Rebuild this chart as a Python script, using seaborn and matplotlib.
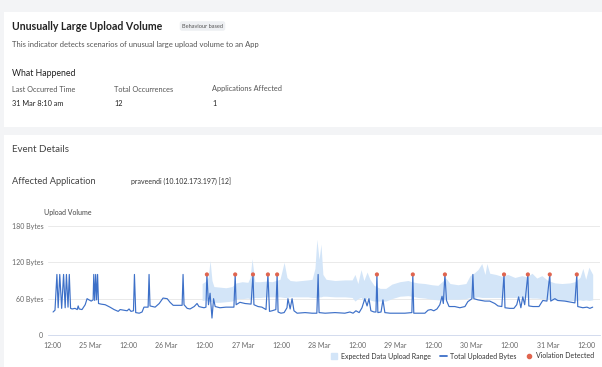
import matplotlib
matplotlib.use("Agg")
import matplotlib.pyplot as plt
import matplotlib.dates as mdates
from matplotlib.patches import Rectangle
from matplotlib.lines import Line2D
from matplotlib.ticker import FuncFormatter
import seaborn as sns
import pandas as pd

# Hours counted from 24 Mar 00:00
start = pd.Timestamp("2021-03-24 00:00")

upload_hours = [
    12.3, 12.9, 13.5, 13.9, 14.4, 15.0, 15.6, 16.1, 16.5, 17.0, 17.4, 17.8, 18.3,
    19.2, 19.9, 20.2, 20.5, 21.4, 22.4, 23.0, 23.6, 24.3, 24.9, 25.1, 25.4, 25.7,
    26.0, 26.3, 26.6, 27.4, 28.7, 30.2, 31.5, 32.8, 33.4, 34.6, 35.6, 36.2, 36.8,
    37.6, 37.9, 38.3, 39.4, 40.3, 40.9, 42.2, 42.5, 42.8, 44.4, 45.7, 46.9, 48.2,
    49.1, 50.1, 52.9, 53.2, 53.5, 54.5, 55.4, 56.7, 57.6, 58.2, 58.9, 59.8, 60.4,
    60.7, 61.2, 61.7, 62.3, 62.8, 63.3, 64.8, 66.7, 68.0, 69.2, 69.6, 69.9, 71.1,
    72.7, 74.6, 75.2, 75.5, 76.8, 78.0, 79.3, 79.9, 80.4, 81.2, 82.4, 82.8, 83.1,
    84.0, 85.0, 85.9, 86.2, 86.9, 87.5, 88.1, 89.1, 91.6, 93.8, 95.3, 95.7, 96.0,
    97.9, 101.0, 104.1, 105.7, 106.7, 107.6, 108.6, 109.5, 110.4, 111.1, 111.7,
    112.3, 113.3, 113.9, 114.2, 114.5, 115.5, 116.1, 116.7, 118.3, 121.4, 123.0,
    125.2, 125.5, 125.8, 127.7, 129.3, 130.3, 131.2, 132.1, 133.1, 134.0, 134.7,
    135.1, 135.6, 136.1, 136.9, 138.7, 140.3, 141.9, 142.8, 144.1, 144.4, 144.7,
    146.0, 148.2, 149.7, 151.3, 152.3, 153.5, 154.2, 154.5, 156.0, 157.3, 158.2,
    158.8, 159.5, 160.1, 160.7, 161.7, 162.0, 163.3, 165.2, 165.8, 166.4, 167.7,
    168.6, 168.9, 170.2, 171.1, 173.3, 175.5, 176.5, 177.1, 177.4, 179.0, 180.3,
    181.2, 182.1,
]
upload_bytes = [
    38, 41, 100, 45, 100, 44, 100, 45, 100, 46, 100, 44, 43,
    44, 42, 48, 43, 42, 50, 60, 58, 56, 58, 100, 57, 100,
    58, 100, 52, 51, 50, 46, 42, 39, 42, 41, 40, 43, 39,
    40, 100, 37, 36, 38, 46, 46, 100, 48, 46, 52, 61, 60,
    54, 49, 49, 100, 50, 44, 43, 47, 52, 47, 46, 45, 46,
    100, 50, 69, 28, 60, 47, 45, 46, 46, 46, 100, 50, 54,
    52, 51, 100, 50, 47, 46, 42, 100, 39, 40, 42, 100, 38,
    36, 37, 45, 60, 43, 60, 40, 36, 37, 36, 36, 100, 37,
    36, 37, 36, 38, 36, 40, 37, 45, 60, 48, 60,
    40, 38, 38, 100, 37, 38, 58, 37, 36, 36, 36,
    37, 100, 36, 36, 36, 41, 42, 40, 43, 50, 64,
    52, 100, 57, 47, 47, 45, 47, 55, 60, 100, 60,
    58, 56, 56, 52, 48, 47, 100, 45, 44, 44, 50,
    63, 45, 63, 50, 100, 48, 47, 47, 52, 57, 56,
    100, 56, 60, 57, 56, 54, 53, 100, 47, 45, 46,
    44, 46,
]

range_hours = [
    59.2, 60.1, 61.1, 61.7, 62.3, 62.9, 64.8, 66.7, 68.6, 69.9, 71.8, 73.6, 74.3,
    74.9, 75.8, 77.4, 79.3, 81.2, 83.7, 85.0, 85.9, 86.9, 88.7, 90.6, 92.5, 93.8,
    94.7, 95.3, 96.0, 96.6, 97.2, 98.2, 101.0, 104.1, 106.4, 107.3, 108.2, 109.2,
    110.1, 111.1, 112.0, 113.3, 115.2, 117.0, 118.9, 121.4, 124.0, 125.2, 127.1,
    129.3, 131.5, 133.4, 134.7, 135.9, 137.2, 139.7, 142.2, 143.5, 144.7, 146.0,
    147.2, 148.2, 148.8, 149.7, 151.6, 153.5, 155.4, 157.6, 159.8, 161.4, 163.0,
    164.5, 166.1, 168.0, 170.2, 172.4, 174.9, 176.5, 178.1, 179.0, 179.9, 180.9,
    182.1,
]
range_low = [
    57, 58, 56, 55, 56, 54, 54, 55, 56, 60, 60, 61, 60,
    61, 62, 62, 63, 63, 63, 62, 62, 63, 63, 63, 63, 62,
    62, 61, 63, 63, 64, 64, 63, 63, 62, 56, 60, 62,
    55, 62, 58, 56, 56, 56, 60, 64, 65, 64, 62,
    61, 59, 58, 58, 59, 59, 59, 60, 62, 62, 63,
    62, 62, 62, 62, 62, 62, 62, 62, 62, 62, 61,
    61, 60, 59, 58, 57, 57, 57, 58, 57, 58, 57,
    58,
]
range_high = [
    85, 88, 95, 123, 90, 80, 79, 78, 80, 86, 88, 87, 95,
    126, 88, 88, 89, 88, 92, 120, 95, 90, 89, 90, 91, 92,
    110, 158, 125, 150, 100, 92, 90, 91, 91, 100, 85, 108,
    90, 104, 92, 82, 77, 77, 84, 88, 90, 88, 86,
    85, 83, 82, 88, 94, 85, 83, 85, 98, 102, 108,
    118, 100, 118, 102, 100, 97, 100, 95, 98, 96, 102,
    94, 98, 90, 86, 85, 86, 88, 95, 110, 92, 112,
    100,
]

violation_hours = [60.7, 69.6, 75.2, 79.9, 82.8, 114.2, 125.5, 135.6, 154.2, 161.7, 168.6, 177.1]
violation_bytes = [100, 100, 100, 100, 100, 100, 100, 100, 100, 100, 100, 100]

y_ticks = [0, 60, 120, 180]
y_tick_labels = ["0", "60 Bytes", "120 Bytes", "180 Bytes"]

summary_labels = ["Last Occurred Time", "Total Occurrences", "Applications Affected"]
summary_values = ["31 Mar 8:10 am", "12", "1"]

upload = pd.DataFrame({"time": start + pd.to_timedelta(upload_hours, unit="h"),
                       "bytes": upload_bytes})
expected = pd.DataFrame({"time": start + pd.to_timedelta(range_hours, unit="h"),
                         "low": range_low, "high": range_high})
violations = pd.DataFrame({"time": start + pd.to_timedelta(violation_hours, unit="h"),
                           "bytes": violation_bytes})

LINE = "#3d70c8"
BAND = "#d3e5f8"
RED = "#e0654f"
DARK = "#333333"
GREY = "#666666"

sns.set_style("white")
plt.rcParams["font.family"] = ["Lato", "DejaVu Sans"]

W, H = 602, 367
fig = plt.figure(figsize=(W / 100, H / 100), dpi=100, facecolor="#f3f4f6")


def fx(x):
    return x / W


def fy(y):
    return 1 - y / H


def txt(x, y, s, **kw):
    fig.text(fx(x), fy(y), s, va="center", ha=kw.pop("ha", "left"), **kw)


# white cards, kept behind the chart
for y_top, y_bot in [(12, 127), (135, 367)]:
    fig.patches.append(Rectangle((fx(4), fy(y_bot)), fx(602) - fx(4), (y_bot - y_top) / H,
                                 transform=fig.transFigure, facecolor="white",
                                 edgecolor="none", zorder=-10))

# header card
txt(12, 26, "Unusually Large Upload Volume", fontsize=7.6, fontweight="bold", color="#222222")
txt(182, 26, "Behaviour based", fontsize=4.1, color="#555555",
    bbox=dict(boxstyle="round,pad=0.4", facecolor="#eef0f3", edgecolor="none"))
txt(12, 44, "This indicator detects scenarios of unusual large upload volume to an App",
    fontsize=5.5, color="#555555")
txt(12, 73, "What Happened", fontsize=6.3, color="#222222")
for xpos, lab, val in zip([12, 114, 212], summary_labels, summary_values):
    txt(xpos, 89, lab, fontsize=5.3, color="#555555")
    txt(xpos, 103, val, fontsize=5.3, color="#222222")

# event details card
txt(12, 149, "Event Details", fontsize=7.0, color="#444444")
txt(12, 181, "Affected Application", fontsize=6.7, color="#444444")
txt(131, 181, "praveendi (10.102.173.197) [12]", fontsize=5.0, color="#333333")
txt(44, 213, "Upload Volume", fontsize=5.0, color="#444444")

# chart
ax = fig.add_axes([fx(48), fy(335), fx(600) - fx(48), (335 - 226) / H])
ax.set_facecolor("white")
ax.fill_between(expected["time"], expected["low"], expected["high"],
                color=BAND, linewidth=0, zorder=1)
sns.lineplot(data=upload, x="time", y="bytes", ax=ax, color=LINE, linewidth=0.85, zorder=3)
sns.scatterplot(data=violations, x="time", y="bytes", ax=ax, color=RED, s=9,
                edgecolor="none", zorder=4)

ax.set_xlim(start + pd.Timedelta(hours=10.7), start + pd.Timedelta(hours=184.4))
ax.set_ylim(0, 180)
ax.set_yticks(y_ticks)
ax.set_yticklabels(y_tick_labels)
ax.set_xlabel("")
ax.set_ylabel("")

ax.xaxis.set_major_locator(mdates.HourLocator(byhour=[0, 12]))


def date_label(v, pos):
    d = mdates.num2date(v)
    return "12:00" if d.hour == 12 else f"{d.day} {d:%b}"


ax.xaxis.set_major_formatter(FuncFormatter(date_label))
ax.yaxis.grid(True, color="#e6e6e6", linewidth=0.6)
ax.set_axisbelow(True)
for side in ["top", "right", "left"]:
    ax.spines[side].set_visible(False)
ax.spines["bottom"].set_color("#ccd6eb")
ax.spines["bottom"].set_linewidth(0.6)
ax.tick_params(axis="x", length=3, width=0.6, color="#ccd6eb", labelsize=5,
               labelcolor=GREY, pad=2)
ax.tick_params(axis="y", length=0, labelsize=5, labelcolor=GREY, pad=3.5)

handles = [
    Line2D([], [], marker="s", linestyle="none", markersize=4.5, color=BAND),
    Line2D([], [], color=LINE, linewidth=1.3),
    Line2D([], [], marker="o", linestyle="none", markersize=3, color=RED),
]
fig.legend(handles, ["Expected Data Upload Range", "Total Uploaded Bytes", "Violation Detected"],
           loc="center right", bbox_to_anchor=(fx(597), fy(356)), ncol=3, frameon=False,
           fontsize=5.0, labelcolor=DARK, handlelength=1.0, handletextpad=0.5,
           columnspacing=1.3, borderaxespad=0)

fig.savefig("out.png", dpi=100, facecolor=fig.get_facecolor())
